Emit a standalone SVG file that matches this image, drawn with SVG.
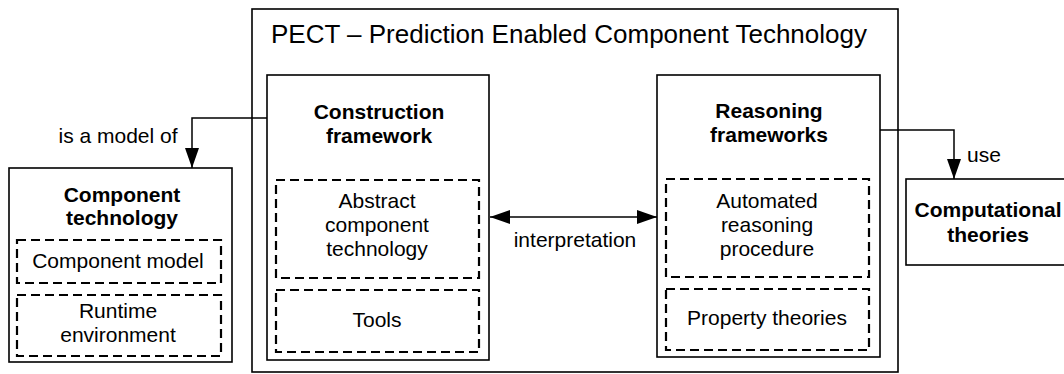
<svg xmlns="http://www.w3.org/2000/svg" width="1064" height="374" viewBox="0 0 1064 374">
<defs>
<marker id="arr" markerWidth="20" markerHeight="14" refX="20" refY="7" orient="auto" markerUnits="userSpaceOnUse">
<path d="M0,0 L20,7 L0,14 Z" fill="#000"/>
</marker>
<marker id="arrs" markerWidth="20" markerHeight="14" refX="0" refY="7" orient="auto" markerUnits="userSpaceOnUse">
<path d="M20,0 L0,7 L20,14 Z" fill="#000"/>
</marker>
</defs>
<style>
.box{fill:#fff;stroke:#000;stroke-width:1.6}
.dash{fill:none;stroke:#000;stroke-width:2.2;stroke-dasharray:9 5}
.t{font-family:"Liberation Sans",Arial,sans-serif;font-size:21px;fill:#000;text-anchor:middle}
.b{font-weight:bold}
.title{font-family:"Liberation Sans",Arial,sans-serif;font-size:26px;fill:#000}
.ln{fill:none;stroke:#000;stroke-width:1.5}
</style>
<rect width="1064" height="374" fill="#fff"/>
<g id="pect">
<rect class="box" x="252" y="9" width="646" height="363"/>
<text class="title" x="271" y="43">PECT – Prediction Enabled Component Technology</text>
</g>
<g id="construction">
<rect class="box" x="267" y="75" width="222" height="285"/>
<text class="t b" x="379" y="119">Construction</text>
<text class="t b" x="379" y="143">framework</text>
<rect class="dash" x="276" y="180" width="203" height="98"/>
<text class="t" x="377" y="208">Abstract</text>
<text class="t" x="377" y="232">component</text>
<text class="t" x="377" y="256">technology</text>
<rect class="dash" x="276" y="290" width="203" height="62"/>
<text class="t" x="377" y="327">Tools</text>
</g>
<g id="reasoning">
<rect class="box" x="657" y="75" width="223" height="282"/>
<text class="t b" x="769" y="118">Reasoning</text>
<text class="t b" x="769" y="142">frameworks</text>
<rect class="dash" x="666" y="179" width="203" height="98"/>
<text class="t" x="767" y="208">Automated</text>
<text class="t" x="767" y="232">reasoning</text>
<text class="t" x="767" y="256">procedure</text>
<rect class="dash" x="666" y="289" width="203" height="61"/>
<text class="t" x="767" y="325">Property theories</text>
</g>
<g id="component-technology">
<rect class="box" x="9" y="168" width="223" height="194"/>
<text class="t b" x="122" y="202">Component</text>
<text class="t b" x="122" y="225">technology</text>
<rect class="dash" x="17" y="240" width="204" height="43"/>
<text class="t" x="118" y="268">Component model</text>
<rect class="dash" x="17" y="295" width="204" height="61"/>
<text class="t" x="118" y="318">Runtime</text>
<text class="t" x="118" y="342">environment</text>
</g>
<g id="computational">
<rect class="box" x="906" y="179" width="162" height="86"/>
<text class="t b" x="988" y="217">Computational</text>
<text class="t b" x="988" y="242">theories</text>
</g>
<g id="connectors">
<path class="ln" d="M267,118 H192 V168" marker-end="url(#arr)"/>
<text class="t" x="118" y="143">is a model of</text>
<path class="ln" d="M490,217 H657" marker-start="url(#arrs)" marker-end="url(#arr)"/>
<text class="t" x="575" y="247">interpretation</text>
<path class="ln" d="M880,130 H954 V179" marker-end="url(#arr)"/>
<text class="t" x="984" y="162">use</text>
</g>
</svg>
